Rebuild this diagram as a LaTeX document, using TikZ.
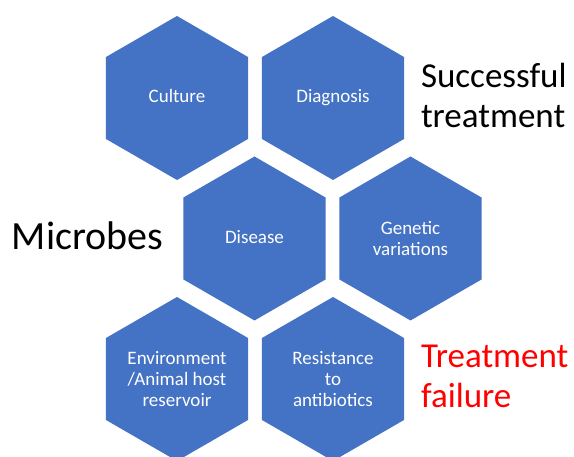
\documentclass[tikz,border=0pt]{standalone}
\usepackage{fontspec}
\setmainfont{Carlito}
\usetikzlibrary{shapes.geometric}
\definecolor{hexblue}{HTML}{4472C4}
\definecolor{failred}{HTML}{FF0000}
\tikzset{
  hexcell/.style={regular polygon, regular polygon sides=6, shape border rotate=30,
    minimum size=164pt, inner sep=0pt, outer sep=0pt, fill=hexblue, draw=none,
    text=white, align=center, font=\fontsize{19}{21}\selectfont},
  biglabel/.style={inner sep=0pt, outer sep=0pt, align=left, anchor=base west,
    font=\fontsize{35}{40}\selectfont}
}
\begin{document}
\begin{tikzpicture}[x=1pt,y=1pt]
\useasboundingbox (0,0) rectangle (574,457);
\clip (0,0) rectangle (574,457);
% centres given as (x, 457 - y_image)
\node[hexcell] (culture)   at (177,359)   {\vphantom{Cg}Culture};
\node[hexcell] (diagnosis) at (333,359)   {\vphantom{Cg}Diagnosis};
\node[hexcell] (disease)   at (254.5,218.5) {\vphantom{Cg}Disease};
\node[hexcell] (genetic)   at (410.5,218.5) {Genetic\\variations};
\node[hexcell] (envir)     at (177,78)    {Environment\\/Animal host\\reservoir};
\node[hexcell] (resist)    at (333,78)    {Resistance\\to\\antibiotics};
\node[biglabel] (success) at (421,329) {Successful\\treatment};
\node[biglabel, font=\fontsize{40}{46}\selectfont] (microbes) at (12,207) {Microbes};
\node[biglabel, text=failred] (failure) at (421,49) {Treatment\\failure};
\end{tikzpicture}
\end{document}
